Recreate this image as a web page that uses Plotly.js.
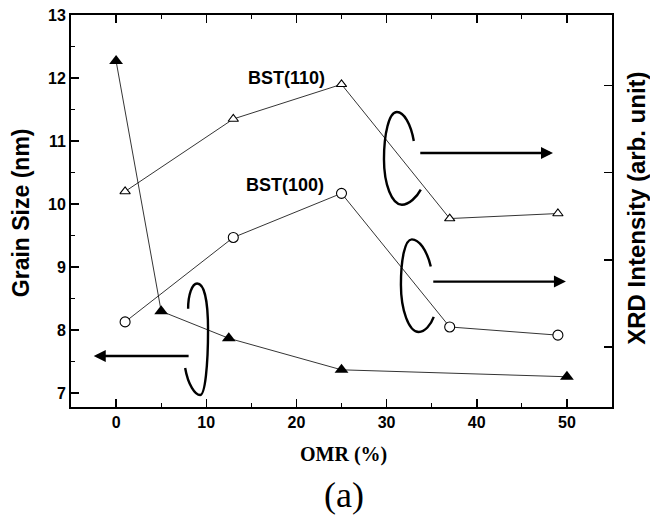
<!DOCTYPE html>
<html>
<head>
<meta charset="utf-8">
<script src="https://cdn.plot.ly/plotly-3.0.1.min.js"></script>
<style>html,body{margin:0;padding:0;background:#fff;}#chart{width:650px;height:518px;}</style>
</head>
<body>
<div id="chart"></div>
<script>
// Grain size (left axis)
var grainOMR = [0, 5, 12.5, 25, 50];
var grainSize = [12.27, 8.30, 7.87, 7.37, 7.26];
// BST(110) XRD intensity (plotted on the left-axis scale, arb. unit)
var bst110OMR = [1, 13, 25, 37, 49];
var bst110 = [10.20, 11.35, 11.90, 9.77, 9.85];
// BST(100) XRD intensity
var bst100OMR = [1, 13, 25, 37, 49];
var bst100 = [8.13, 9.47, 10.17, 8.05, 7.92];
// right-axis tick positions (arb. unit, no labels)
var xrdTicks = [0, 1, 2, 3];

var lineStyle = {color: '#000', width: 0.8};
var traces = [
  {x: grainOMR, y: grainSize, type: 'scatter', mode: 'lines+markers', line: lineStyle,
   marker: {symbol: 'triangle-up', size: 12, color: '#000'}, cliponaxis: false},
  {x: bst110OMR, y: bst110, type: 'scatter', mode: 'lines+markers', line: lineStyle,
   marker: {symbol: 'triangle-up', size: 9, color: '#fff', line: {width: 1.1, color: '#000'}}},
  {x: bst100OMR, y: bst100, type: 'scatter', mode: 'lines+markers', line: lineStyle,
   marker: {symbol: 'circle', size: 10, color: '#fff', line: {width: 1.1, color: '#000'}}},
  {x: [0], y: [0], yaxis: 'y2', type: 'scatter', mode: 'markers', marker: {opacity: 0}, hoverinfo: 'skip', showlegend: false}
];

var sans = 'Liberation Sans, Arial, sans-serif';
var serif = 'Liberation Serif, Times New Roman, serif';
var tickFont = {family: sans, size: 16, color: '#000', weight: 'bold'};
var bracket = {type: 'path', xref: 'x', yref: 'y', line: {color: '#000', width: 2.4}};

var layout = {
  width: 650, height: 518,
  margin: {l: 71, r: 38, t: 15, b: 111},
  paper_bgcolor: '#fff', plot_bgcolor: '#fff',
  showlegend: false,
  xaxis: {
    range: [-5, 55], tickvals: [0, 10, 20, 30, 40, 50],
    ticks: 'inside', ticklen: 8, tickwidth: 1.5, tickcolor: '#000',
    minor: {dtick: 5, tick0: 0, ticks: 'inside', ticklen: 4, tickwidth: 1.2, tickcolor: '#000'},
    showline: true, linewidth: 2, linecolor: '#000', mirror: 'ticks',
    showgrid: false, zeroline: false, tickfont: tickFont
  },
  yaxis: {
    range: [6.78, 13.0], tickvals: [7, 8, 9, 10, 11, 12, 13],
    ticks: 'inside', ticklen: 8, tickwidth: 1.5, tickcolor: '#000',
    minor: {dtick: 0.5, tick0: 0, ticks: 'inside', ticklen: 4, tickwidth: 1.2, tickcolor: '#000'},
    showline: true, linewidth: 2, linecolor: '#000', mirror: false,
    showgrid: false, zeroline: false, tickfont: tickFont
  },
  yaxis2: {
    overlaying: 'y', side: 'right', range: [-0.69, 3.81],
    tickvals: xrdTicks, ticktext: xrdTicks.map(function(){return '';}),
    ticks: 'inside', ticklen: 8, tickwidth: 1.5, tickcolor: '#000',
    showline: true, linewidth: 2, linecolor: '#000',
    showgrid: false, zeroline: false
  },
  shapes: [
    Object.assign({path: 'M 7.99,8.34 C 7.99,8.56 8.43,8.74 8.99,8.74 C 9.76,8.74 10.20,8.48 10.20,8.00 C 10.20,7.45 9.87,6.97 9.32,6.97 C 8.77,6.97 7.99,7.13 7.66,7.40'}, bracket),
    Object.assign({path: 'M 33.02,11.00 C 32.69,11.27 31.92,11.46 31.15,11.46 C 30.26,11.46 29.71,11.11 29.71,10.71 C 29.71,10.31 30.60,9.99 31.70,9.99 C 32.47,9.99 33.35,10.11 33.79,10.23'}, bracket),
    Object.assign({path: 'M 34.90,9.01 C 34.45,9.28 33.57,9.44 32.80,9.44 C 32.03,9.44 31.59,9.12 31.59,8.72 C 31.59,8.32 32.47,7.97 33.57,7.97 C 34.23,7.97 34.90,8.08 35.23,8.21'}, bracket)
  ],
  annotations: [
    {x: -2.48, y: 7.59, ax: 8.21, ay: 7.59, xref: 'x', yref: 'y', axref: 'x', ayref: 'y',
     text: '', showarrow: true, arrowhead: 2, arrowsize: 1, arrowwidth: 2.4, arrowcolor: '#000'},
    {x: 48.46, y: 10.81, ax: 33.57, ay: 10.81, xref: 'x', yref: 'y', axref: 'x', ayref: 'y',
     text: '', showarrow: true, arrowhead: 2, arrowsize: 1, arrowwidth: 2.4, arrowcolor: '#000'},
    {x: 49.89, y: 8.77, ax: 35.01, ay: 8.77, xref: 'x', yref: 'y', axref: 'x', ayref: 'y',
     text: '', showarrow: true, arrowhead: 2, arrowsize: 1, arrowwidth: 2.4, arrowcolor: '#000'},
    {x: 18.9, y: 12.0, xref: 'x', yref: 'y', text: 'BST(110)', showarrow: false,
     font: {family: sans, size: 18, color: '#000', weight: 'bold'}},
    {x: 18.7, y: 10.30, xref: 'x', yref: 'y', text: 'BST(100)', showarrow: false,
     font: {family: sans, size: 18, color: '#000', weight: 'bold'}},
    {x: -0.092, y: 0.495, xref: 'paper', yref: 'paper', text: 'Grain Size (nm)', showarrow: false,
     textangle: -90, xanchor: 'center', yanchor: 'middle',
     font: {family: sans, size: 23, color: '#000', weight: 'bold'}},
    {x: 1.046, y: 0.508, xref: 'paper', yref: 'paper', text: 'XRD Intensity (arb. unit)', showarrow: false,
     textangle: -90, xanchor: 'center', yanchor: 'middle',
     font: {family: sans, size: 24, color: '#000', weight: 'bold'}},
    {x: 0.503, y: -0.12, xref: 'paper', yref: 'paper', text: 'OMR (%)', showarrow: false,
     xanchor: 'center', yanchor: 'middle',
     font: {family: serif, size: 20, color: '#000', weight: 'bold'}},
    {x: 0.505, y: -0.225, xref: 'paper', yref: 'paper', text: '(a)', showarrow: false,
     xanchor: 'center', yanchor: 'middle',
     font: {family: serif, size: 36, color: '#000'}}
  ]
};

Plotly.newPlot('chart', traces, layout, {staticPlot: true, displayModeBar: false});
</script>
</body>
</html>
